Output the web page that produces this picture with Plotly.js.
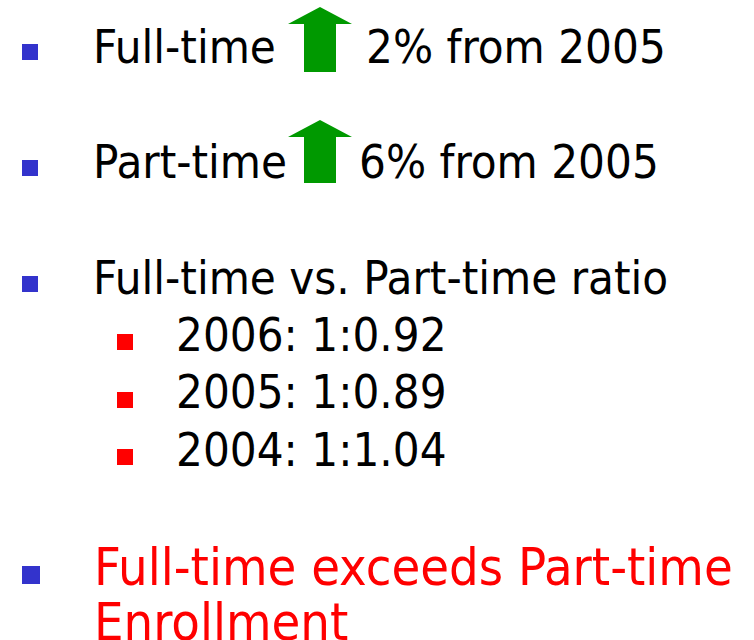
<!DOCTYPE html>
<html><head><meta charset="utf-8">
<script src="https://cdn.plot.ly/plotly-3.0.1.min.js"></script>
<style>html,body{margin:0;padding:0;background:#fff;overflow:hidden}#chart{width:754px;height:640px}</style>
</head><body><div id="chart"></div>
<script>
// ---- data ----
const mainLabels = ["Full-time", "Part-time", "Full-time vs. Part-time ratio"];
const growthPct = [2, 6];
const baseYear = 2005;
const ratioYears = [2006, 2005, 2004];
const ratioValues = [0.92, 0.89, 1.04];
const conclusionLines = ["Full-time exceeds Part-time", "Enrollment"];

// ---- layout positions (pixel space, y measured from top) ----
const mainTextX = 93;
const mainRowY = [46, 161, 277];
const growthTextX = [366, 359];
const subTextX = 176;
const subRowY = [334, 391, 449];
const conclusionTextX = 94;
const conclusionY = [567, 622];
const bulletX = 30, subBulletX = 125;
const mainBulletY = [52, 168, 284];
const subBulletY = [342, 400, 457];
const conclusionBulletXY = [31, 575];
const arrowCX = 320, arrowTopY = [7, 120], arrowBottomY = [72, 183];
const arrowHeadHalf = 32, arrowShaftHalf = 16, arrowHeadDepth = 17;

const FONT = "DejaVu Sans Condensed, Liberation Sans, sans-serif";
const BLUE = "#3333CC", RED = "#FF0000", GREEN = "#009900";

const traces = [];
// level-1 bullets
traces.push({type:"scatter", mode:"markers", x:[bulletX,bulletX,bulletX], y:mainBulletY,
  marker:{symbol:"square", size:16, color:BLUE, line:{width:0}}, hoverinfo:"skip"});
// level-2 bullets
traces.push({type:"scatter", mode:"markers", x:ratioYears.map(()=>subBulletX), y:subBulletY,
  marker:{symbol:"square", size:16, color:RED, line:{width:0}}, hoverinfo:"skip"});
// conclusion bullet
traces.push({type:"scatter", mode:"markers", x:[conclusionBulletXY[0]], y:[conclusionBulletXY[1]],
  marker:{symbol:"square", size:18, color:BLUE, line:{width:0}}, hoverinfo:"skip"});
// up arrows
growthPct.forEach((p,i)=>{
  const t = arrowTopY[i], b = arrowBottomY[i], h = t + arrowHeadDepth;
  traces.push({type:"scatter", mode:"lines", fill:"toself", fillcolor:GREEN,
    line:{width:0, color:GREEN}, hoverinfo:"skip",
    x:[arrowCX-arrowHeadHalf, arrowCX, arrowCX+arrowHeadHalf, arrowCX+arrowShaftHalf, arrowCX+arrowShaftHalf, arrowCX-arrowShaftHalf, arrowCX-arrowShaftHalf, arrowCX-arrowHeadHalf],
    y:[h, t, h, h, b, b, h, h]});
});

const ann = [];
function addText(x, y, text, size, color){
  ann.push({xref:"x", yref:"y", x:x, y:y, text:text, showarrow:false,
    xanchor:"left", yanchor:"middle", borderpad:0, borderwidth:0,
    font:{family:FONT, size:size, color:color}});
}
mainLabels.forEach((t,i)=>addText(mainTextX, mainRowY[i], t, 47, "#000000"));
growthPct.forEach((p,i)=>addText(growthTextX[i], mainRowY[i], p + "% from " + baseYear, 47, "#000000"));
ratioYears.forEach((yr,i)=>addText(subTextX, subRowY[i], yr + ": 1:" + ratioValues[i].toFixed(2), 47, "#000000"));
conclusionLines.forEach((t,i)=>addText(conclusionTextX, conclusionY[i], t, 52, RED));

const layout = {
  width:754, height:640, margin:{l:0,r:0,t:0,b:0},
  paper_bgcolor:"#ffffff", plot_bgcolor:"#ffffff", showlegend:false,
  xaxis:{range:[0,754], visible:false, fixedrange:true},
  yaxis:{range:[640,0], visible:false, fixedrange:true},
  annotations:ann
};
Plotly.newPlot("chart", traces, layout, {staticPlot:true, displayModeBar:false});
</script></body></html>
